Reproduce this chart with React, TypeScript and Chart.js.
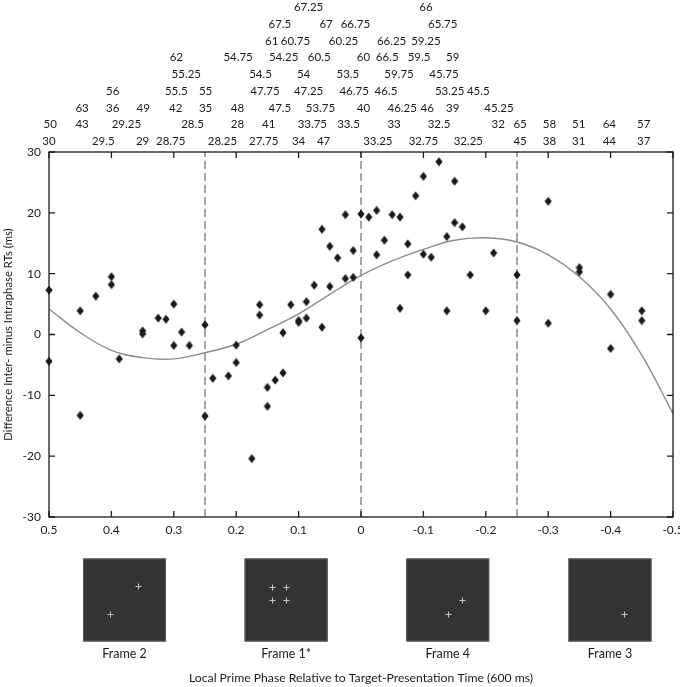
import { useEffect, useRef } from 'react';
import { Chart, registerables } from 'chart.js';

Chart.register(...registerables);

const FONT = "Lato, 'Open Sans', sans-serif";
const INK = '#1a1a1a';

// pontos (fase do prime local, diferença em ms)
const pointPhase = [
    0.5, 0.5, 0.45, 0.45, 0.425, 0.4, 0.4, 0.3875, 0.35, 0.35,
    0.325, 0.3125, 0.3, 0.3, 0.2875, 0.275, 0.25, 0.25, 0.2375, 0.2125,
    0.2, 0.2, 0.175, 0.1625, 0.1625, 0.15, 0.15, 0.1375, 0.125, 0.125,
    0.1125, 0.1, 0.1, 0.0875, 0.0875, 0.075, 0.0625, 0.0625, 0.05, 0.05,
    0.0375, 0.025, 0.025, 0.0125, 0.0125, 0, 0, -0.0125, -0.025, -0.025,
    -0.0375, -0.05, -0.0625, -0.0625, -0.075, -0.075, -0.0875, -0.1, -0.1, -0.1125,
    -0.125, -0.1375, -0.1375, -0.15, -0.15, -0.1625, -0.175, -0.2, -0.2125, -0.25,
    -0.25, -0.3, -0.3, -0.35, -0.35, -0.4, -0.4, -0.45, -0.45,
];
const pointDiff = [
    7.3, -4.4, 3.9, -13.3, 6.3, 9.5, 8.2, -4.0, 0.6, 0.1,
    2.7, 2.5, 5.0, -1.8, 0.4, -1.8, 1.6, -13.4, -7.2, -6.8,
    -1.75, -4.6, -20.4, 4.9, 3.2, -8.7, -11.8, -7.5, -6.3, 0.3,
    4.9, 2.3, 2.0, 5.4, 2.7, 8.1, 17.3, 1.2, 14.5, 7.9,
    12.6, 19.7, 9.2, 13.8, 9.4, 19.8, -0.55, 19.3, 20.4, 13.1,
    15.5, 19.7, 19.3, 4.3, 14.9, 9.8, 22.8, 26.0, 13.2, 12.7,
    28.4, 16.1, 3.9, 25.2, 18.4, 17.7, 9.8, 3.9, 13.4, 9.8,
    2.3, 21.9, 1.85, 11.0, 10.3, 6.6, -2.3, 3.9, 2.3,
];

// curva ajustada
const fitPhase = [0.5, 0.45, 0.4, 0.35, 0.3, 0.25, 0.2, 0.15, 0.1, 0.05, 0, -0.05, -0.1, -0.15, -0.2, -0.25, -0.3, -0.35, -0.4, -0.45, -0.5];
const fitDiff = [4.2, 0.3, -2.6, -3.8, -4.0, -3.0, -1.6, 0.8, 3.4, 6.6, 9.7, 12.1, 14.0, 15.5, 15.9, 15.2, 13.1, 9.5, 4.2, -3.4, -13.0];

const dashedPhase = [0.25, 0, -0.25];

const xTicks = [0.5, 0.4, 0.3, 0.2, 0.1, 0, -0.1, -0.2, -0.3, -0.4, -0.5];
const yTicks = [-30, -20, -10, 0, 10, 20, 30];

// números no topo, por linha (de baixo para cima): [texto, fase]
const topRows: [string, number][][] = [
    [['30', 0.5], ['29.5', 0.413], ['29', 0.35], ['28.75', 0.305], ['28.25', 0.222], ['27.75', 0.156], ['34', 0.1], ['47', 0.06], ['33.25', -0.027], ['32.75', -0.1], ['32.25', -0.172], ['45', -0.255], ['38', -0.302], ['31', -0.349], ['44', -0.398], ['37', -0.453]],
    [['50', 0.498], ['43', 0.447], ['29.25', 0.376], ['28.5', 0.27], ['28', 0.198], ['41', 0.148], ['33.75', 0.078], ['33.5', 0.02], ['33', -0.053], ['32.5', -0.125], ['32', -0.22], ['65', -0.255], ['58', -0.302], ['51', -0.349], ['64', -0.398], ['57', -0.453]],
    [['63', 0.447], ['36', 0.398], ['49', 0.349], ['42', 0.297], ['35', 0.249], ['48', 0.198], ['47.5', 0.13], ['53.75', 0.065], ['40', -0.004], ['46.25', -0.066], ['46', -0.106], ['39', -0.147], ['45.25', -0.221]],
    [['56', 0.398], ['55.5', 0.296], ['55', 0.249], ['47.75', 0.154], ['47.25', 0.084], ['46.75', 0.011], ['46.5', -0.04], ['53.25', -0.142], ['45.5', -0.188]],
    [['55.25', 0.28], ['54.5', 0.161], ['54', 0.092], ['53.5', 0.021], ['59.75', -0.061], ['45.75', -0.133]],
    [['62', 0.296], ['54.75', 0.197], ['54.25', 0.124], ['60.5', 0.067], ['60', -0.004], ['66.5', -0.042], ['59.5', -0.093], ['59', -0.147]],
    [['61', 0.143], ['60.75', 0.105], ['60.25', 0.028], ['66.25', -0.049], ['59.25', -0.104]],
    [['67.5', 0.13], ['67', 0.056], ['66.75', 0.009], ['65.75', -0.131]],
    [['67.25', 0.084], ['66', -0.104]],
];

// quadros ilustrativos embaixo do eixo
const frameNames = ['Frame 2', 'Frame 1*', 'Frame 4', 'Frame 3'];
const framePhase = [0.379, 0.12, -0.139, -0.399];
const frameCrosses = [
    [[0.66, 0.33], [0.33, 0.67]],
    [[0.33, 0.34], [0.5, 0.34], [0.33, 0.5], [0.5, 0.5]],
    [[0.67, 0.5], [0.5, 0.67]],
    [[0.67, 0.67]],
];

function makeDiamond() {
    const c = document.createElement('canvas');
    c.width = 8;
    c.height = 10;
    const g = c.getContext('2d')!;
    g.fillStyle = INK;
    g.beginPath();
    g.moveTo(4, 0.5);
    g.lineTo(7.6, 5);
    g.lineTo(4, 9.5);
    g.lineTo(0.4, 5);
    g.closePath();
    g.fill();
    return c;
}

const decorPlugin = {
    id: 'decor',
    afterDatasetsDraw(chart: any) {
        const { ctx, chartArea: a, scales } = chart;
        const tick = 6;
        ctx.save();
        ctx.strokeStyle = INK;
        ctx.lineWidth = 1.3;
        ctx.strokeRect(a.left, a.top, a.right - a.left, a.bottom - a.top);
        ctx.beginPath();
        xTicks.forEach((v) => {
            const px = scales.x.getPixelForValue(v);
            ctx.moveTo(px, a.bottom); ctx.lineTo(px, a.bottom - tick);
            ctx.moveTo(px, a.top); ctx.lineTo(px, a.top + tick);
        });
        yTicks.forEach((v) => {
            const py = scales.y.getPixelForValue(v);
            ctx.moveTo(a.left, py); ctx.lineTo(a.left + tick, py);
            ctx.moveTo(a.right, py); ctx.lineTo(a.right - tick, py);
        });
        ctx.stroke();
        ctx.restore();
    },
    afterDraw(chart: any) {
        const { ctx, chartArea: a, scales } = chart;
        ctx.save();
        // números do topo
        ctx.fillStyle = INK;
        ctx.font = `11.5px ${FONT}`;
        ctx.textAlign = 'center';
        ctx.textBaseline = 'middle';
        topRows.forEach((row, i) => {
            const y = a.top - 10.7 - i * 16.75;
            row.forEach(([txt, ph]) => ctx.fillText(txt, scales.x.getPixelForValue(ph), y));
        });
        // quadros
        const size = 83;
        const top = a.bottom + 41.5;
        frameNames.forEach((name, i) => {
            const cx = scales.x.getPixelForValue(framePhase[i]);
            const left = cx - size / 2;
            ctx.fillStyle = '#333333';
            ctx.fillRect(left, top, size, size);
            ctx.strokeStyle = '#5a5a5a';
            ctx.lineWidth = 1;
            ctx.strokeRect(left + 0.5, top + 0.5, size - 1, size - 1);
            ctx.strokeStyle = '#c8c8c8';
            ctx.beginPath();
            frameCrosses[i].forEach(([fx, fy]) => {
                const x = Math.round(left + fx * size) + 0.5;
                const y = Math.round(top + fy * size) + 0.5;
                ctx.moveTo(x - 3, y); ctx.lineTo(x + 3, y);
                ctx.moveTo(x, y - 3); ctx.lineTo(x, y + 3);
            });
            ctx.stroke();
            ctx.fillStyle = INK;
            ctx.font = `12.5px ${FONT}`;
            ctx.fillText(name, cx, top + size + 12.5);
        });
        ctx.restore();
    },
};

export default function App() {
    const canvasRef = useRef<HTMLCanvasElement>(null);

    useEffect(() => {
        if (!canvasRef.current) return;
        const diamond = makeDiamond();

        const datasets: any[] = [
            {
                label: 'pontos',
                data: pointPhase.map((x, i) => ({ x, y: pointDiff[i] })),
                pointStyle: diamond,
                pointRadius: 5,
                showLine: false,
                clip: false,
            },
            {
                label: 'ajuste',
                data: fitPhase.map((x, i) => ({ x, y: fitDiff[i] })),
                showLine: true,
                borderColor: '#8c8c8c',
                borderWidth: 1.4,
                pointRadius: 0,
                tension: 0.4,
            },
            ...dashedPhase.map((x) => ({
                label: 'tracejado',
                data: [{ x, y: -30 }, { x, y: 30 }],
                showLine: true,
                borderColor: '#777777',
                borderWidth: 1.3,
                borderDash: [8, 4],
                pointRadius: 0,
            })),
        ];

        const chart = new Chart(canvasRef.current, {
            type: 'scatter',
            data: { datasets },
            plugins: [decorPlugin],
            options: {
                animation: false,
                responsive: true,
                maintainAspectRatio: false,
                layout: { padding: { top: 152, right: 7, left: 0, bottom: 0 } },
                plugins: { legend: { display: false }, tooltip: { enabled: false } },
                scales: {
                    x: {
                        type: 'linear',
                        reverse: true,
                        min: -0.5,
                        max: 0.5,
                        grid: { display: false, drawTicks: false },
                        border: { display: false },
                        afterBuildTicks: (s: any) => { s.ticks = xTicks.map((v) => ({ value: v })); },
                        afterFit: (s: any) => { s.height = 170; s.paddingLeft = 0; s.paddingRight = 0; },
                        ticks: {
                            autoSkip: false,
                            maxRotation: 0,
                            padding: 6,
                            color: INK,
                            font: { family: FONT, size: 12 },
                            callback: (v: any) => String(v),
                        },
                        title: {
                            display: true,
                            text: 'Local Prime Phase Relative to Target-Presentation Time (600 ms)',
                            color: INK,
                            font: { family: FONT, size: 12.2 },
                            padding: { top: 0, bottom: 1.5 },
                        },
                    },
                    y: {
                        min: -30,
                        max: 30,
                        grid: { display: false, drawTicks: false },
                        border: { display: false },
                        afterBuildTicks: (s: any) => { s.ticks = yTicks.map((v) => ({ value: v })); },
                        afterFit: (s: any) => { s.width = 49; s.paddingTop = 0; s.paddingBottom = 0; },
                        ticks: {
                            padding: 8,
                            color: INK,
                            font: { family: FONT, size: 12 },
                            callback: (v: any) => String(v),
                        },
                        title: {
                            display: true,
                            text: 'Difference Inter- minus Intraphase RTs (ms)',
                            color: INK,
                            font: { family: FONT, size: 11.3 },
                            padding: { top: 2, bottom: 0 },
                        },
                    },
                },
            },
        });

        return () => chart.destroy();
    }, []);

    return (
        <div style={{ position: 'absolute', left: 0, top: 0, width: '680px', height: '687px', background: '#fff' }}>
            <canvas ref={canvasRef}></canvas>
        </div>
    );
}
